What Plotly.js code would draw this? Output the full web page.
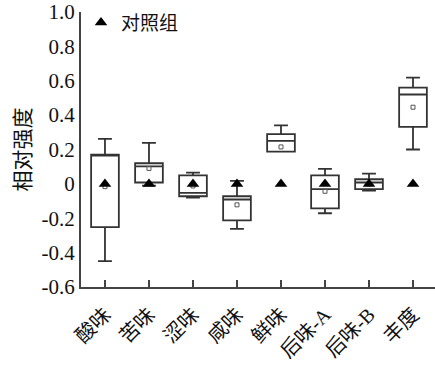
<!DOCTYPE html>
<html><head><meta charset="utf-8">
<script src="https://cdn.plot.ly/plotly-3.0.1.min.js"></script>
<style>html,body{margin:0;padding:0;background:#fff}#c{width:435px;height:366px}</style>
</head><body><div id="c"></div>
<script>
const categories = ["酸味","苦味","涩味","咸味","鲜味","后味-A","后味-B","丰度"];
const lowerFence = [-0.45, -0.01, -0.08, -0.262, 0.188, -0.171, -0.039, 0.20];
const q1         = [-0.252, 0.008, -0.072, -0.212, 0.188, -0.142, -0.031, 0.332];
const median     = [0.17, 0.102, -0.052, -0.091, 0.25, -0.031, 0.008, 0.52];
const q3         = [0.17, 0.12, 0.05, -0.072, 0.289, 0.05, 0.027, 0.56];
const upperFence = [0.262, 0.238, 0.066, 0.017, 0.34, 0.087, 0.06, 0.618];
const meanVals   = [-0.016, 0.09, -0.012, -0.122, 0.215, -0.043, 0.0, 0.446];
const controlVals= [0, 0, 0, 0, 0, 0, 0, 0];
const yTicks = [-0.6,-0.4,-0.2,0,0.2,0.4,0.6,0.8,1.0];
const yTickText = ["-0.6","-0.4","-0.2","0","0.2","0.4","0.6","0.8","1.0"];

const FONT = "'Liberation Serif', 'Noto Sans CJK SC', serif";
const xIdx = categories.map((_, i) => i);

const traces = [
  {
    type: "box", x: xIdx, q1: q1, median: median, q3: q3,
    lowerfence: lowerFence, upperfence: upperFence,
    width: 0.63, whiskerwidth: 0.5,
    line: {color: "#333", width: 1.8}, fillcolor: "rgba(255,255,255,0)",
    boxpoints: false, showlegend: false, hoverinfo: "skip"
  },
  {
    type: "scatter", mode: "markers", x: xIdx, y: meanVals,
    marker: {symbol: "square-open", size: 4, color: "#555", line: {width: 1, color: "#555"}},
    showlegend: false, hoverinfo: "skip"
  },
  {
    type: "scatter", mode: "markers", x: xIdx, y: controlVals, name: "对照组",
    marker: {symbol: "triangle-up", size: 11, color: "#000"}
  }
];

const layout = {
  width: 435, height: 366,
  margin: {l: 81, r: 0, t: 12, b: 79},
  paper_bgcolor: "#fff", plot_bgcolor: "#fff",
  font: {family: FONT, color: "#111", size: 20},
  showlegend: true,
  legend: {x: 0.0, y: 1.03, xanchor: "left", yanchor: "top", bgcolor: "rgba(0,0,0,0)",
           font: {family: FONT, size: 19, color: "#111"}, itemwidth: 30, tracegroupgap: 0},
  xaxis: {
    range: [-0.545, 7.5], tickmode: "array", tickvals: xIdx, ticktext: categories,
    tickangle: -45, ticks: "inside", ticklen: 7, tickcolor: "#444", tickwidth: 1.5,
    showline: true, linecolor: "#444", linewidth: 2, showgrid: false, zeroline: false,
    ticklabelstandoff: 6,
    tickfont: {family: FONT, size: 20, color: "#111"}
  },
  yaxis: {
    range: [-0.6, 1.0], tickmode: "array", tickvals: yTicks, ticktext: yTickText,
    ticks: "", showline: true, linecolor: "#444", linewidth: 2, showgrid: false, zeroline: false,
    tickfont: {family: FONT, size: 21, color: "#111"},
    title: {text: "相对强度", font: {family: FONT, size: 21, color: "#111"}, standoff: 5}
  }
};
Plotly.newPlot("c", traces, layout, {displayModeBar: false, staticPlot: true});
</script></body></html>
